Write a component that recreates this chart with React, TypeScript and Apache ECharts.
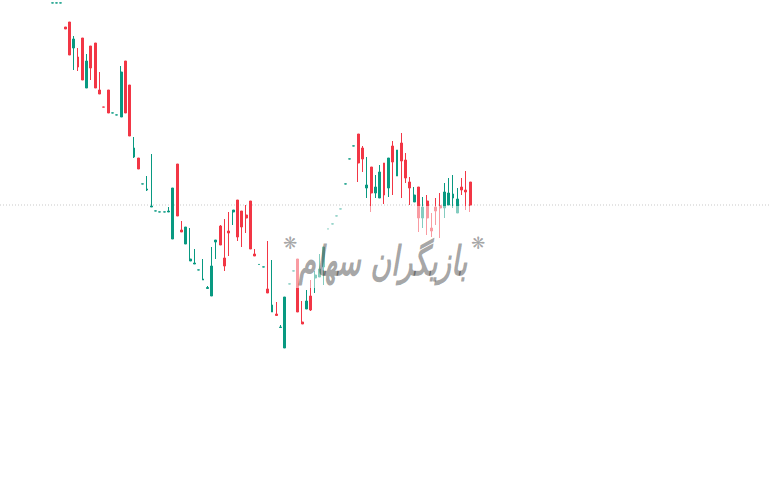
import { useEffect, useRef } from 'react';
import * as echarts from 'echarts';

// Daily prices (open, close, low, high)
const opens = [
  4960, 4960, 4960, 4720, 4770, 4510, 4420, 4610, 4110, 4530,
  4560, 4090, 3920, 4090, 3860, 3840, 3820, 4380, 4140, 3420,
  3410, 3150, 3090, 2920, 2880, 2870, 2870, 2870, 2600, 3350,
  2690, 2550, 2380, 2350, 2290, 2190, 2105, 2030, 2570, 2730,
  2410, 2680, 2870, 2990, 2880, 2840, 2980, 2450, 2345, 2320,
  2100, 1870, 1850, 1715, 1510, 2150, 2280, 2400, 1770, 1900,
  2030, 2210, 2220, 2320, 2700, 2750, 2830, 2900, 3150, 3400,
  3530, 3650, 3510, 3110, 3320, 3060, 3010, 3360, 3110, 3530,
  3230, 3560, 3390, 3170, 2970, 3120, 2810, 2980, 2710, 2920,
  2930, 2910, 2940, 3010, 2860, 3120, 3090, 3170,
];
const closes = [
  4961, 4961, 4961, 4700, 4440, 4600, 4320, 4190, 4380, 4310,
  4110, 4050, 3919, 3860, 3861, 3841, 4270, 3860, 3630, 3510,
  3300, 3151, 3100, 2930, 2881, 2871, 2871, 2880, 3110, 2830,
  2670, 2720, 2400, 2360, 2291, 2200, 2115, 2330, 2590, 2540,
  2330, 2660, 2890, 2620, 2720, 2810, 2500, 2430, 2346, 2321,
  2060, 1940, 1835, 1720, 2020, 2151, 2281, 1870, 1750, 1980,
  1890, 2240, 2300, 2520, 2701, 2751, 2831, 2901, 3151, 3401,
  3531, 3360, 3400, 3140, 3060, 3120, 3270, 3040, 3410, 3370,
  3490, 3380, 3210, 3110, 3040, 2810, 2920, 2810, 2680, 2880,
  2910, 3070, 3060, 3050, 3000, 3090, 3070, 2940,
];
const lows = [
  4960, 4960, 4960, 4700, 4440, 4290, 4280, 4190, 4110, 4190,
  4110, 4050, 3919, 3860, 3860, 3840, 3820, 3860, 3630, 3410,
  3300, 3150, 3080, 2920, 2880, 2870, 2870, 2870, 2600, 2830,
  2670, 2550, 2380, 2350, 2290, 2190, 2100, 2030, 2400, 2540,
  2280, 2430, 2740, 2580, 2520, 2660, 2500, 2430, 2345, 2320,
  2060, 1870, 1835, 1710, 1510, 2150, 2280, 1870, 1750, 1900,
  1880, 2060, 2220, 2140, 2700, 2750, 2830, 2900, 3150, 3400,
  3530, 3170, 3270, 3010, 2870, 3010, 3010, 2950, 3020, 3040,
  3230, 3010, 3160, 2940, 2970, 2670, 2710, 2640, 2620, 2740,
  2610, 2810, 2940, 2910, 2860, 3040, 2890, 2870,
];
const highs = [
  4961, 4961, 4961, 4720, 4770, 4630, 4510, 4610, 4450, 4530,
  4560, 4270, 3920, 4090, 3861, 3841, 4330, 4380, 4140, 3620,
  3410, 3151, 3230, 3450, 2881, 2871, 2871, 2920, 3110, 3350,
  2780, 2720, 2710, 2500, 2291, 2400, 2130, 2520, 2590, 2740,
  2800, 2870, 2890, 2990, 2880, 2940, 2980, 2500, 2346, 2321,
  2580, 2390, 1970, 1740, 2020, 2151, 2281, 2400, 1980, 2090,
  2190, 2280, 2450, 2520, 2701, 2751, 2831, 2901, 3151, 3401,
  3531, 3650, 3530, 3420, 3320, 3240, 3340, 3360, 3410, 3580,
  3490, 3660, 3460, 3220, 3120, 3120, 3020, 3040, 2860, 3010,
  3060, 3160, 3210, 3240, 3110, 3210, 3280, 3170,
];
const categories = opens.map((_, i) => `${i + 1}`);
const watermarkText = 'بازیگران سهام';
const starGlyph = '❋';

const UP = '#089981';
const DOWN = '#f23645';

export default function App() {
  const ref = useRef<HTMLDivElement>(null);
  useEffect(() => {
    document.body.style.margin = '0';
    const chart = echarts.init(ref.current!, null, { renderer: 'svg' });
    const data = opens.map((o, i) => [o, closes[i], lows[i], highs[i]]);
    chart.setOption({
      animation: false,
      backgroundColor: '#ffffff',
      grid: { left: 50, right: 296.6, top: 0, bottom: 0 },
      xAxis: { type: 'category', data: categories, show: false, boundaryGap: true },
      yAxis: { type: 'value', min: 0, max: 4990, show: false },
      series: [
        {
          type: 'candlestick',
          data,
          barWidth: 2.4,
          z: 5,
          itemStyle: {
            color: UP,
            color0: DOWN,
            borderColor: UP,
            borderColor0: DOWN,
            borderWidth: 1,
          },
        },
      ],
    });
    const lastClose = closes[closes.length - 1];
    const y = chart.convertToPixel({ yAxisIndex: 0 }, lastClose) as number;
    const wmFill = 'rgba(0,0,0,0.36)';
    chart.setOption({
      graphic: [
        {
          type: 'line',
          z: 0,
          shape: { x1: 0, y1: y, x2: 769, y2: y },
          style: { stroke: '#c9c9c9', lineWidth: 1, lineDash: [1, 2] },
        },
        {
          type: 'rect',
          z: 50,
          shape: { x: 282, y: 206, width: 208, height: 82 },
          style: { fill: 'rgba(255,255,255,0.5)' },
        },
        {
          type: 'text',
          z: 51,
          x: 383,
          y: 261,
          scaleY: 1.45,
          style: {
            text: watermarkText,
            fontSize: 28,
            fontStyle: 'italic',
            fontWeight: 'bold',
            fontFamily: 'DejaVu Sans',
            fill: wmFill,
            align: 'center',
            verticalAlign: 'middle',
          },
        },
        {
          type: 'text',
          z: 51,
          x: 290,
          y: 243,
          style: {
            text: starGlyph,
            fontSize: 17,
            fontFamily: 'DejaVu Sans',
            fill: wmFill,
            align: 'center',
            verticalAlign: 'middle',
          },
        },
        {
          type: 'text',
          z: 51,
          x: 478,
          y: 243,
          style: {
            text: starGlyph,
            fontSize: 17,
            fontFamily: 'DejaVu Sans',
            fill: wmFill,
            align: 'center',
            verticalAlign: 'middle',
          },
        },
      ],
    });
    return () => chart.dispose();
  }, []);
  return (
    <div
      ref={ref}
      style={{ position: 'absolute', left: 0, top: 0, width: 769, height: 499 }}
    />
  );
}
